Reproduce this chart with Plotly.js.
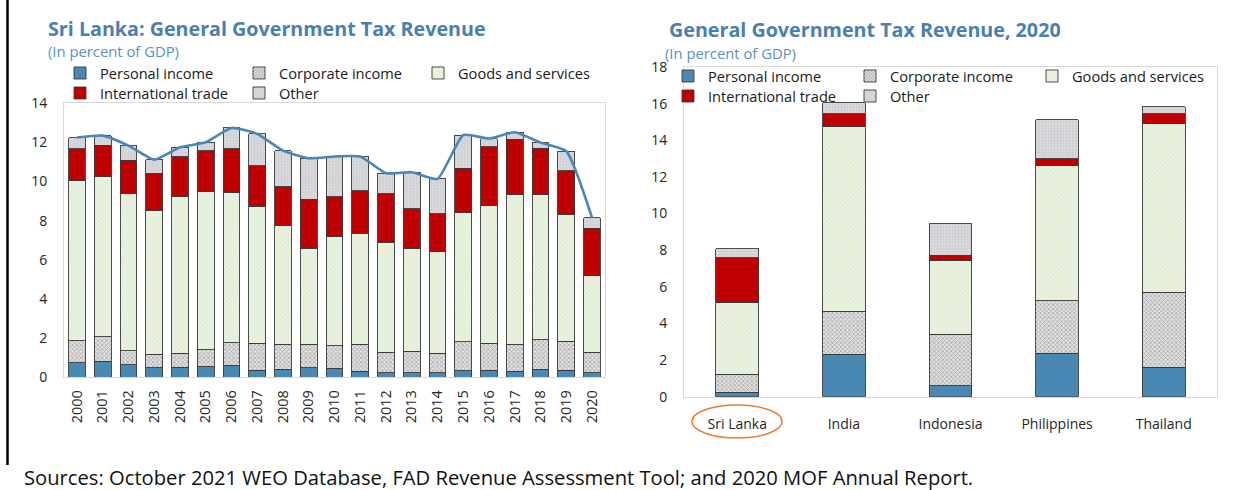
<!DOCTYPE html>
<html>
<head>
<meta charset="utf-8">
<script src="https://cdn.plot.ly/plotly-3.0.1.min.js"></script>
<style>html,body{margin:0;padding:0;background:#fff;overflow:hidden;}#chart{width:1244px;height:490px;}</style>
</head>
<body>
<div id="chart"></div>
<script>
// ---- Data: Sri Lanka time series (percent of GDP) ----
var years = ["2000","2001","2002","2003","2004","2005","2006","2007","2008","2009","2010",
             "2011","2012","2013","2014","2015","2016","2017","2018","2019","2020"];
var slPersonal  = [0.75,0.83,0.63,0.48,0.51,0.53,0.61,0.36,0.41,0.48,0.46,0.32,0.22,0.24,0.24,0.34,0.36,0.32,0.41,0.36,0.24];
var slCorporate = [1.11,1.25,0.73,0.71,0.72,0.88,1.16,1.38,1.29,1.22,1.16,1.38,1.06,1.09,0.99,1.47,1.38,1.37,1.50,1.48,1.04];
var slGoods     = [8.21,8.18,8.03,7.33,8.02,8.10,7.68,6.98,6.07,4.89,5.55,5.63,5.62,5.26,5.19,6.59,7.02,7.63,7.41,6.47,3.92];
var slTrade     = [1.60,1.60,1.70,1.91,2.03,2.06,2.24,2.10,1.97,2.51,2.05,2.19,2.49,2.03,1.94,2.28,3.03,2.84,2.38,2.25,2.41];
var slOther     = [0.58,0.49,0.75,0.69,0.47,0.44,1.05,1.62,1.84,2.09,2.06,1.76,1.04,1.86,1.78,1.70,0.41,0.36,0.29,0.99,0.53];
var slTotal     = [12.25,12.35,11.84,11.12,11.75,12.01,12.74,12.44,11.58,11.19,11.28,11.28,10.43,10.48,10.14,12.38,12.20,12.52,11.99,11.55,8.14];

// ---- Data: cross-country comparison, 2020 ----
var countries    = ["Sri Lanka","India","Indonesia","Philippines","Thailand"];
var ccPersonal   = [0.24,2.31,0.60,2.36,1.60];
var ccCorporate  = [0.98,2.36,2.80,2.88,4.11];
var ccGoods      = [3.94,10.06,4.04,7.40,9.20];
var ccTrade      = [2.42,0.71,0.29,0.36,0.54];
var ccOther      = [0.51,0.61,1.72,2.13,0.37];

var seriesNames = ["Personal income","Corporate income","Goods and services","International trade","Other"];

// ---- Styles ----
var FONT = "Open Sans";
var outline = {color:"#3a3a3a", width:0.9};
var styles = [
  {color:"#4888b2", line:outline},
  {color:"#d8d8d8", line:outline, pattern:{shape:"x", bgcolor:"#e3e3e3", fgcolor:"#666666", size:3, solidity:0.45, fillmode:"overlay"}},
  {color:"#e8f1de", line:outline, pattern:{shape:"/", bgcolor:"#ebf3e2", fgcolor:"#c8dab6", size:3, solidity:0.3, fillmode:"overlay"}},
  {color:"#c00000", line:outline},
  {color:"#d6d7db", line:outline, pattern:{shape:".", bgcolor:"#d9dade", fgcolor:"#b9babe", size:3, solidity:0.4, fillmode:"overlay"}}
];

var leftSeries  = [slPersonal, slCorporate, slGoods, slTrade, slOther];
var rightSeries = [ccPersonal, ccCorporate, ccGoods, ccTrade, ccOther];
var leftLegends  = ["legend","legend","legend","legend2","legend2"];
var rightLegends = ["legend3","legend3","legend3","legend4","legend4"];

var data = [];
for (var i = 0; i < 5; i++) {
  data.push({type:"bar", name:seriesNames[i], x:years, y:leftSeries[i], xaxis:"x", yaxis:"y",
    width:0.65, marker:styles[i], legend:leftLegends[i], hoverinfo:"y+name"});
}
data.push({type:"scatter", mode:"lines", x:years, y:slTotal, xaxis:"x", yaxis:"y",
  line:{color:"#4a86b8", width:2.6, shape:"spline", smoothing:0.5}, showlegend:false, name:"Total"});
for (var j = 0; j < 5; j++) {
  data.push({type:"bar", name:seriesNames[j], x:countries, y:rightSeries[j], xaxis:"x2", yaxis:"y2",
    width:0.4, marker:styles[j], legend:rightLegends[j], hoverinfo:"y+name"});
}

var W = 1244, H = 490;
function px(x){ return x / W; }
function py(y){ return 1 - y / H; }

var axisCommon = {showgrid:false, zeroline:false, showline:true, mirror:true, linecolor:"#d9d9d9", linewidth:1,
  ticks:"", tickfont:{family:FONT, size:14, color:"#262626"}, fixedrange:true, automargin:false};

var legendCommon = {orientation:"h", xanchor:"left", yanchor:"middle", traceorder:"normal",
  font:{family:FONT, size:14.6, color:"#1a1a1a"}, bgcolor:"rgba(0,0,0,0)", entrywidthmode:"pixels",
  itemclick:false, itemdoubleclick:false, tracegroupgap:0};

var layout = {
  width:W, height:H, margin:{l:0, r:0, t:0, b:0, autoexpand:false}, paper_bgcolor:"#ffffff", plot_bgcolor:"#ffffff",
  barmode:"stack", showlegend:true, font:{family:FONT},
  xaxis: Object.assign({}, axisCommon, {domain:[px(64), px(605)], anchor:"y", type:"category",
    tickangle:-90, ticklabelstandoff:6, tickfont:{family:FONT, size:14.5, color:"#262626"}}),
  yaxis: Object.assign({}, axisCommon, {domain:[py(377.3), py(103.3)], anchor:"x", range:[0,14], dtick:2,
    ticklabelstandoff:13}),
  xaxis2: Object.assign({}, axisCommon, {domain:[px(684), px(1217)], anchor:"y2", type:"category",
    ticklabelstandoff:14, tickfont:{family:FONT, size:14, color:"#262626"}}),
  yaxis2: Object.assign({}, axisCommon, {domain:[py(396.7), py(67)], anchor:"x2", range:[0,18], dtick:2,
    ticklabelstandoff:13}),
  legend:  Object.assign({}, legendCommon, {x:px(60),  y:py(73), entrywidth:134}),
  legend2: Object.assign({}, legendCommon, {x:px(60),  y:py(93), entrywidth:134}),
  legend3: Object.assign({}, legendCommon, {x:px(668), y:py(76), entrywidth:137}),
  legend4: Object.assign({}, legendCommon, {x:px(668), y:py(96), entrywidth:137}),
  annotations: [
    {text:"<b>Sri Lanka: General Government Tax Revenue</b>", xref:"paper", yref:"paper", x:px(46), y:py(28),
      xanchor:"left", yanchor:"middle", showarrow:false, font:{family:FONT, size:19.7, color:"#4a7fb3"}},
    {text:"(In percent of GDP)", xref:"paper", yref:"paper", x:px(46), y:py(51),
      xanchor:"left", yanchor:"middle", showarrow:false, font:{family:FONT, size:14.8, color:"#5b8fc9"}},
    {text:"<b>General Government Tax Revenue, 2020</b>", xref:"paper", yref:"paper", x:px(667), y:py(30),
      xanchor:"left", yanchor:"middle", showarrow:false, font:{family:FONT, size:19.7, color:"#4a7fb3"}},
    {text:"(In percent of GDP)", xref:"paper", yref:"paper", x:px(663), y:py(53),
      xanchor:"left", yanchor:"middle", showarrow:false, font:{family:FONT, size:14.8, color:"#5b8fc9"}},
    {text:"Sources: October 2021 WEO Database, FAD Revenue Assessment Tool; and 2020 MOF Annual Report.",
      xref:"paper", yref:"paper", x:px(22), y:py(477), xanchor:"left", yanchor:"middle", showarrow:false,
      font:{family:FONT, size:20.2, color:"#111111"}}
  ],
  shapes: [
    {type:"line", xref:"paper", yref:"paper", x0:px(7.5), x1:px(7.5), y0:py(0), y1:py(465),
      line:{color:"#000000", width:2.5}},
    {type:"circle", xref:"paper", yref:"paper", x0:px(692), x1:px(782), y0:py(438), y1:py(405),
      line:{color:"#ed7d31", width:1.6}}
  ]
};

Plotly.newPlot("chart", data, layout, {displayModeBar:false, staticPlot:true});
</script>
</body>
</html>
